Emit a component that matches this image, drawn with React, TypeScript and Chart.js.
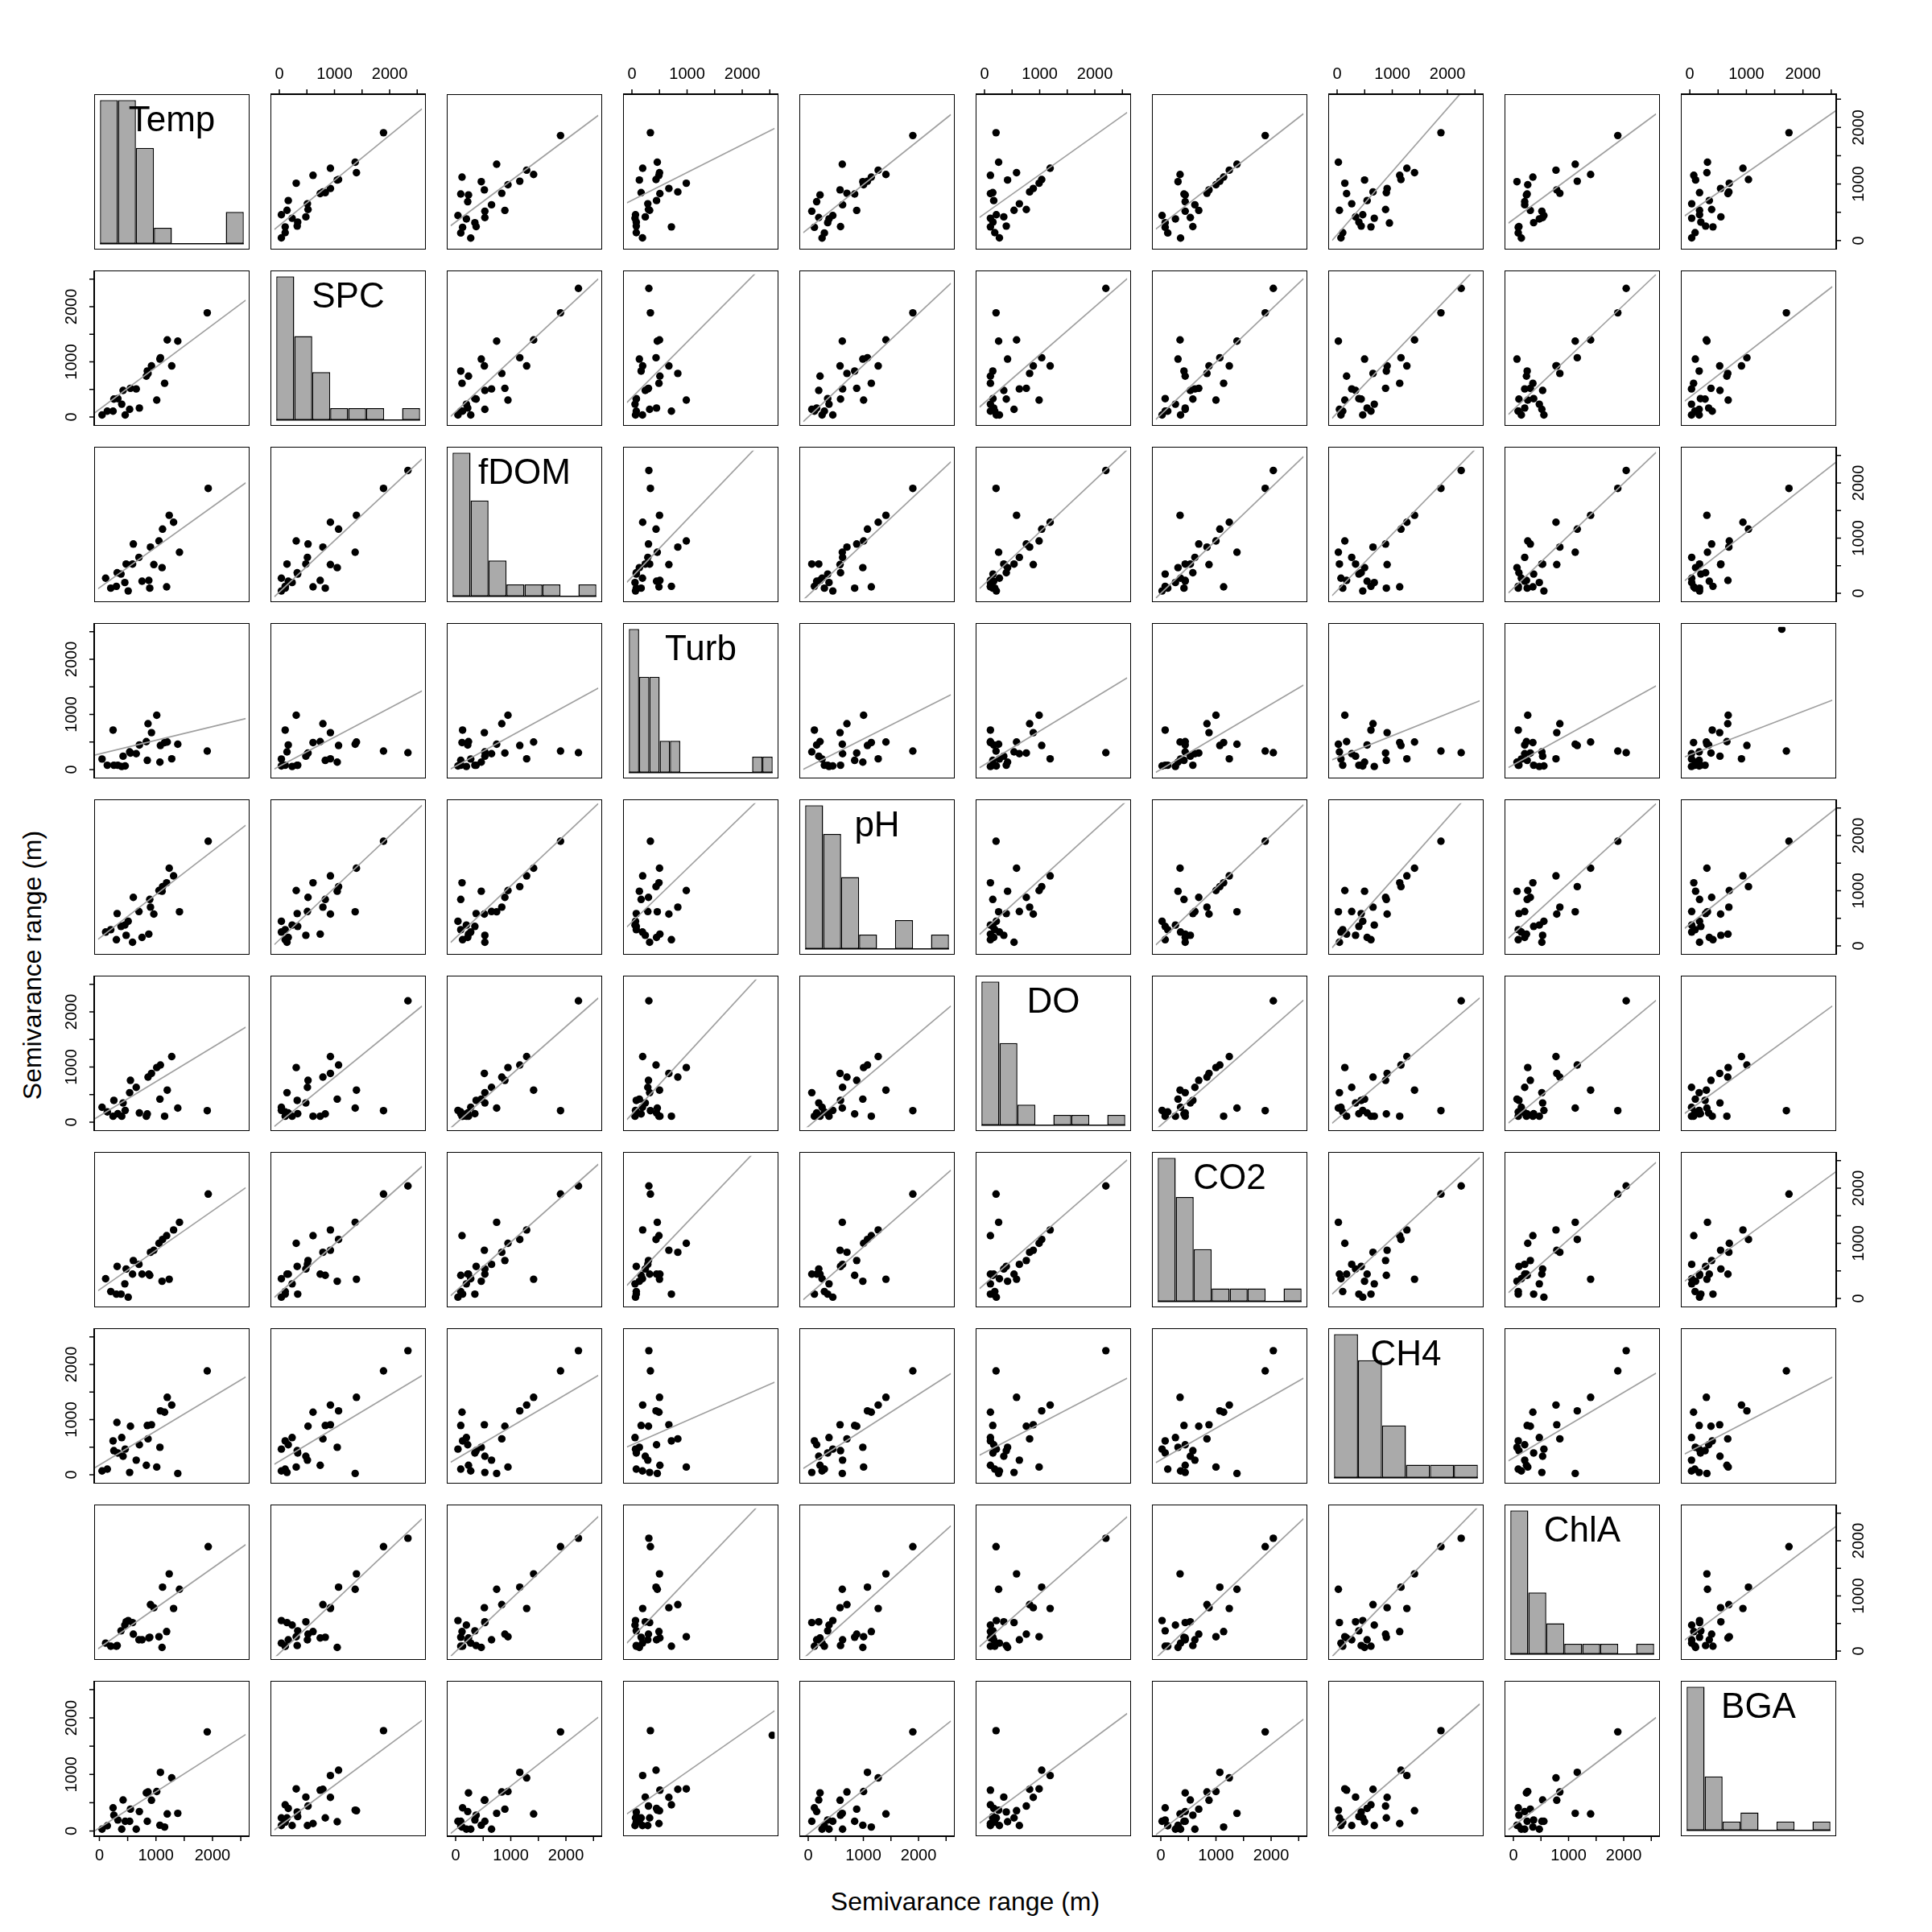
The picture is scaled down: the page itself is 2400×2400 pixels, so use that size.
import React, { useEffect, useRef } from 'react';
import { Chart, registerables } from 'chart.js';
Chart.register(...registerables);

// ---------------- data ----------------
const varNames = ['Temp', 'SPC', 'fDOM', 'Turb', 'pH', 'DO', 'CO2', 'CH4', 'ChlA', 'BGA'];

// semivariance ranges (m) per site; the last sites carry values beyond the plotted range (clipped, as in the original)
const temp = [47, 140, 242, 256, 326, 395, 419, 456, 535, 549, 651, 707, 830, 847, 860, 921, 1014, 1079, 1070, 1153, 1200, 1279, 1386, 1907, 310, 3750, 3800];
const spc = [37, 106, 106, 324, 333, 232, 481, 37, 139, 520, 509, 162, 741, 833, 790, 926, 306, 1074, 1050, 611, 1398, 926, 1375, 1889, 2750, 2332, 3750];
const fdom = [274, 93, 126, 372, 349, 195, 530, 42, 530, 893, 651, 219, 233, 93, 837, 521, 949, 1163, 465, 116, 1414, 1288, 744, 1902, 2750, 2227, 3750];
const turb = [191, 79, 716, 79, 79, 56, 242, 65, 321, 300, 288, 446, 507, 167, 832, 670, 986, 437, 135, 490, 500, 195, 460, 335, 2700, 307, 2545];
const ph = [251, 293, 112, 586, 353, 377, 191, 446, 65, 879, 623, 153, 214, 842, 702, 577, 1004, 1074, 990, 1144, 1409, 1269, 618, 1897, 2800, 2750, 3700];
const dox = [270, 186, 107, 395, 153, 107, 349, 214, 535, 758, 632, 167, 107, 150, 818, 884, 990, 1037, 418, 107, 581, 1190, 256, 209, 2750, 2200, 3700];
const co2 = [358, 126, 79, 581, 79, 265, 535, 23, 442, 688, 618, 442, 442, 420, 837, 874, 1000, 1070, 312, 1139, 349, 1242, 1381, 1893, 2750, 2040, 3750];
const ch4 = [70, 102, 614, 437, 395, 674, 335, 465, 42, 879, 265, 544, 172, 893, 651, 907, 140, 1158, 498, 1135, 1404, 1265, 23, 1883, 949, 2250, 2750];
const chla = [144, 88, 88, 100, 367, 470, 530, 553, 516, 307, 205, 205, 237, 250, 842, 786, 260, 1158, 65, 353, 1400, 772, 1121, 1893, 2750, 2045, 3750];
const bga = [33, 93, 409, 279, 195, 33, 549, 172, 172, 386, 33, 344, 674, 172, 690, 544, 698, 1037, 102, 70, 302, 939, 312, 1753, 2750, 3750, 1670];

// histogram bin counts (diagonal panels)
const histTemp = [9, 9, 6, 1, 0, 0, 0, 2];
const histSPC = [12, 7, 4, 1, 1, 1, 0, 1];
const histFDOM = [12, 8, 3, 1, 1, 1, 0, 1];
const histTurb = [9, 6, 6, 2, 2, 0, 0, 0, 0, 0, 0, 0, 1, 1];
const histPH = [10, 8, 5, 1, 0, 2, 0, 1];
const histDO = [14, 8, 2, 0, 1, 1, 0, 1];
const histCO2 = [11, 8, 4, 1, 1, 1, 0, 1];
const histCH4 = [11, 9, 4, 1, 1, 1];
const histChlA = [14, 6, 3, 1, 1, 1, 0, 1];
const histBGA = [16, 6, 1, 2, 0, 1, 0, 1];

const tickValues = [0, 500, 1000, 1500, 2000, 2500];
const tickLabels = ['0', '', '1000', '', '2000', ''];

const axisTitle = 'Semivarance range (m)';

const series = [temp, spc, fdom, turb, ph, dox, co2, ch4, chla, bga];
const hists = [histTemp, histSPC, histFDOM, histTurb, histPH, histDO, histCO2, histCH4, histChlA, histBGA];

// ---------------- layout ----------------
const N = 10;
const ORIGIN = 117;
const STEP = 219;
const PANEL = 193;
const EXT = 52;
const AX_MIN = -92;
const AX_MAX = 2588;
const HIST_PAD = PANEL * 0.04 / 1.08;
const FONT = '"Liberation Sans", Arial, Helvetica, sans-serif';

type Ext = { top: number; bottom: number; left: number; right: number };

function fit(xs: number[], ys: number[]) {
  const n = xs.length;
  const mx = xs.reduce((s, v) => s + v, 0) / n;
  const my = ys.reduce((s, v) => s + v, 0) / n;
  let sxy = 0;
  let sxx = 0;
  for (let i = 0; i < n; i++) {
    sxy += (xs[i] - mx) * (ys[i] - my);
    sxx += (xs[i] - mx) * (xs[i] - mx);
  }
  const b = sxy / sxx;
  return { a: my - b * mx, b };
}

function framePlugin(ext: Ext, label: string | null) {
  return {
    id: 'pairsFrame',
    afterDraw(chart: any) {
      const ctx: CanvasRenderingContext2D = chart.ctx;
      const L = ext.left;
      const T = ext.top;
      const R = ext.left + PANEL;
      const B = ext.top + PANEL;
      ctx.save();
      ctx.strokeStyle = '#000';
      ctx.fillStyle = '#000';
      if (label) {
        const ys = chart.scales.y;
        const y0 = ys.getPixelForValue(0);
        ctx.lineWidth = 1.5;
        ctx.beginPath();
        ctx.moveTo(chart.chartArea.left, y0);
        ctx.lineTo(chart.chartArea.right, y0);
        ctx.stroke();
        ctx.font = `44px ${FONT}`;
        ctx.textAlign = 'center';
        ctx.textBaseline = 'middle';
        ctx.fillText(label, (L + R) / 2, T + 34);
      }
      ctx.lineWidth = 2;
      ctx.strokeRect(L, T, PANEL, PANEL);
      ctx.font = `20px ${FONT}`;
      ctx.lineWidth = 1.5;
      if (!label) {
        const xs = chart.scales.x;
        const ys = chart.scales.y;
        tickValues.forEach((v, i) => {
          const px = xs.getPixelForValue(v);
          const py = ys.getPixelForValue(v);
          const txt = tickLabels[i];
          if (ext.top) {
            ctx.beginPath(); ctx.moveTo(px, T); ctx.lineTo(px, T - 6); ctx.stroke();
            if (txt) { ctx.textAlign = 'center'; ctx.textBaseline = 'middle'; ctx.fillText(txt, px, T - 24.5); }
          }
          if (ext.bottom) {
            ctx.beginPath(); ctx.moveTo(px, B); ctx.lineTo(px, B + 6); ctx.stroke();
            if (txt) { ctx.textAlign = 'center'; ctx.textBaseline = 'middle'; ctx.fillText(txt, px, B + 24.5); }
          }
          if (ext.left) {
            ctx.beginPath(); ctx.moveTo(L, py); ctx.lineTo(L - 6, py); ctx.stroke();
            if (txt) {
              ctx.save(); ctx.translate(L - 28, py); ctx.rotate(-Math.PI / 2);
              ctx.textAlign = 'center'; ctx.textBaseline = 'middle'; ctx.fillText(txt, 0, 0); ctx.restore();
            }
          }
          if (ext.right) {
            ctx.beginPath(); ctx.moveTo(R, py); ctx.lineTo(R + 6, py); ctx.stroke();
            if (txt) {
              ctx.save(); ctx.translate(R + 28, py); ctx.rotate(-Math.PI / 2);
              ctx.textAlign = 'center'; ctx.textBaseline = 'middle'; ctx.fillText(txt, 0, 0); ctx.restore();
            }
          }
        });
      }
      ctx.restore();
    },
  };
}

function makeScatter(canvas: HTMLCanvasElement, r: number, c: number, ext: Ext) {
  const xs = series[c];
  const ys = series[r];
  const pts = xs.map((x, i) => ({ x, y: ys[i] }));
  const { a, b } = fit(xs, ys);
  return new Chart(canvas, {
    type: 'scatter',
    data: {
      datasets: [
        {
          type: 'line',
          data: [
            { x: AX_MIN, y: a + b * AX_MIN },
            { x: AX_MAX, y: a + b * AX_MAX },
          ],
          borderColor: '#a0a0a0',
          borderWidth: 1.7,
          pointRadius: 0,
          fill: false,
          clip: 0,
        } as any,
        {
          type: 'scatter',
          data: pts,
          pointRadius: 4.7,
          pointBackgroundColor: '#000',
          pointBorderWidth: 0,
          borderWidth: 0,
          clip: 0,
        } as any,
      ],
    },
    options: {
      responsive: false,
      animation: false,
      devicePixelRatio: 1,
      events: [],
      layout: { padding: { left: ext.left, right: ext.right, top: ext.top, bottom: ext.bottom } },
      scales: {
        x: { type: 'linear', min: AX_MIN, max: AX_MAX, display: false },
        y: { type: 'linear', min: AX_MIN, max: AX_MAX, display: false },
      },
      plugins: { legend: { display: false }, tooltip: { enabled: false } },
    },
    plugins: [framePlugin(ext, null)],
  } as any);
}

function makeHist(canvas: HTMLCanvasElement, k: number, ext: Ext) {
  const counts = hists[k];
  const maxCount = Math.max(...counts);
  return new Chart(canvas, {
    type: 'bar',
    data: {
      labels: counts.map((_, i) => String(i + 1)),
      datasets: [
        {
          data: counts,
          backgroundColor: '#aaaaaa',
          borderColor: '#000',
          borderWidth: 1.5,
          borderSkipped: false,
          categoryPercentage: 1,
          barPercentage: 1,
          inflateAmount: 0,
        } as any,
      ],
    },
    options: {
      responsive: false,
      animation: false,
      devicePixelRatio: 1,
      events: [],
      layout: {
        padding: {
          left: ext.left + HIST_PAD,
          right: ext.right + HIST_PAD,
          top: ext.top + HIST_PAD,
          bottom: ext.bottom + HIST_PAD,
        },
      },
      scales: {
        x: { type: 'category', offset: true, display: false },
        y: { type: 'linear', min: 0, max: maxCount, display: false },
      },
      plugins: { legend: { display: false }, tooltip: { enabled: false } },
    },
    plugins: [framePlugin(ext, varNames[k])],
  } as any);
}

function Panel({ r, c }: { r: number; c: number }) {
  const ref = useRef<HTMLCanvasElement>(null);
  const ext: Ext = {
    top: r === 0 && c % 2 === 1 ? EXT : 0,
    bottom: r === N - 1 && c % 2 === 0 ? EXT : 0,
    left: c === 0 && r % 2 === 1 ? EXT : 0,
    right: c === N - 1 && r % 2 === 0 ? EXT : 0,
  };
  const w = PANEL + ext.left + ext.right;
  const h = PANEL + ext.top + ext.bottom;
  useEffect(() => {
    const canvas = ref.current!;
    const chart = r === c ? makeHist(canvas, r, ext) : makeScatter(canvas, r, c, ext);
    return () => chart.destroy();
  }, []);
  return (
    <canvas
      ref={ref}
      width={w}
      height={h}
      style={{
        position: 'absolute',
        left: ORIGIN + c * STEP - ext.left,
        top: ORIGIN + r * STEP - ext.top,
        width: w,
        height: h,
      }}
    />
  );
}

export default function App() {
  const cells: JSX.Element[] = [];
  for (let r = 0; r < N; r++) {
    for (let c = 0; c < N; c++) {
      cells.push(<Panel key={`${r}-${c}`} r={r} c={c} />);
    }
  }
  const gridMid = ORIGIN + ((N - 1) * STEP + PANEL) / 2;
  return (
    <div
      style={{
        position: 'absolute',
        left: 0,
        top: 0,
        width: 2400,
        height: 2400,
        background: '#fff',
        overflow: 'hidden',
        fontFamily: FONT,
      }}
    >
      {cells}
      <div
        style={{
          position: 'absolute',
          left: gridMid - 600,
          width: 1200,
          top: 2362 - 20,
          height: 40,
          lineHeight: '40px',
          textAlign: 'center',
          fontSize: 32,
          color: '#000',
        }}
      >
        {axisTitle}
      </div>
      <div
        style={{
          position: 'absolute',
          left: 40 - 400,
          width: 800,
          top: gridMid - 20,
          height: 40,
          lineHeight: '40px',
          textAlign: 'center',
          fontSize: 32,
          color: '#000',
          transform: 'rotate(-90deg)',
        }}
      >
        {axisTitle}
      </div>
    </div>
  );
}
